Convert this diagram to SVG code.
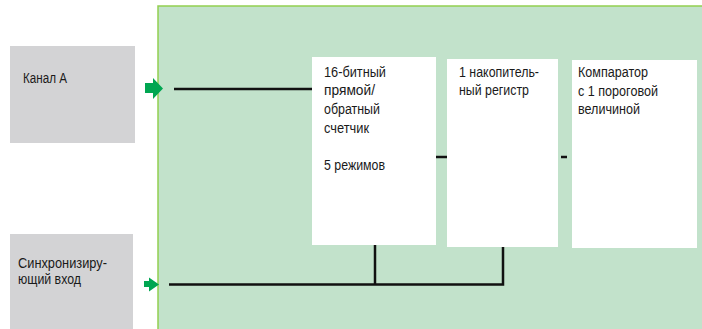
<svg xmlns="http://www.w3.org/2000/svg" width="702" height="329" viewBox="0 0 702 329">
<defs>
<style>
.t{font-family:"Liberation Sans",Arial,sans-serif;font-size:14px;fill:#1a1a1a}
.in{fill:#d3d3d5}
.blk{fill:#ffffff}
.ln{stroke:#111;stroke-width:2.5;fill:none}
.arr{fill:#00a651}
</style>
</defs>
<rect id="module" x="158" y="6" width="544" height="323" fill="#c2e2cb"/>
<path d="M158 329 V6 H702" fill="none" stroke="#92d050" stroke-width="1.5"/>
<g id="channelA">
<rect class="in" x="10" y="46" width="125" height="97"/>
<text class="t" x="23" y="83" textLength="44" lengthAdjust="spacingAndGlyphs">Канал А</text>
</g>
<g id="sync">
<rect class="in" x="10" y="234" width="123" height="95"/>
<text class="t" x="18" y="268" textLength="89" lengthAdjust="spacingAndGlyphs">Синхронизиру-</text>
<text class="t" x="18" y="284" textLength="63" lengthAdjust="spacingAndGlyphs">ющий вход</text>
</g>
<g id="counter">
<rect class="blk" x="312" y="57" width="124" height="188"/>
<text class="t" x="324" y="77" textLength="62" lengthAdjust="spacingAndGlyphs">16-битный</text>
<text class="t" x="324" y="95" textLength="51" lengthAdjust="spacingAndGlyphs">прямой/</text>
<text class="t" x="324" y="114" textLength="56" lengthAdjust="spacingAndGlyphs">обратный</text>
<text class="t" x="324" y="133" textLength="45" lengthAdjust="spacingAndGlyphs">счетчик</text>
<text class="t" x="324" y="170" textLength="61" lengthAdjust="spacingAndGlyphs">5 режимов</text>
</g>
<g id="register">
<rect class="blk" x="447" y="59" width="111" height="188"/>
<text class="t" x="459" y="77" textLength="80" lengthAdjust="spacingAndGlyphs">1 накопитель-</text>
<text class="t" x="459" y="95" textLength="70" lengthAdjust="spacingAndGlyphs">ный регистр</text>
</g>
<g id="comparator">
<rect class="blk" x="572" y="60" width="125" height="188"/>
<text class="t" x="578" y="77" textLength="70" lengthAdjust="spacingAndGlyphs">Компаратор</text>
<text class="t" x="578" y="96" textLength="80" lengthAdjust="spacingAndGlyphs">с 1 пороговой</text>
<text class="t" x="578" y="114" textLength="62" lengthAdjust="spacingAndGlyphs">величиной</text>
</g>
<g id="connectors">
<path class="arr" d="M145 83 H153 V78 L163 88.5 L153 99 V93 H145 Z"/>
<path class="arr" d="M144 281 H149 V277.5 L159 284.5 L149 291.5 V287 H144 Z"/>
<path class="ln" d="M174 89 H312"/>
<path class="ln" d="M436 157 H447"/>
<path class="ln" d="M561 157 H567"/>
<path class="ln" d="M169 284.5 H503 V247"/>
<path class="ln" d="M375 284.5 V245"/>
</g>
</svg>
